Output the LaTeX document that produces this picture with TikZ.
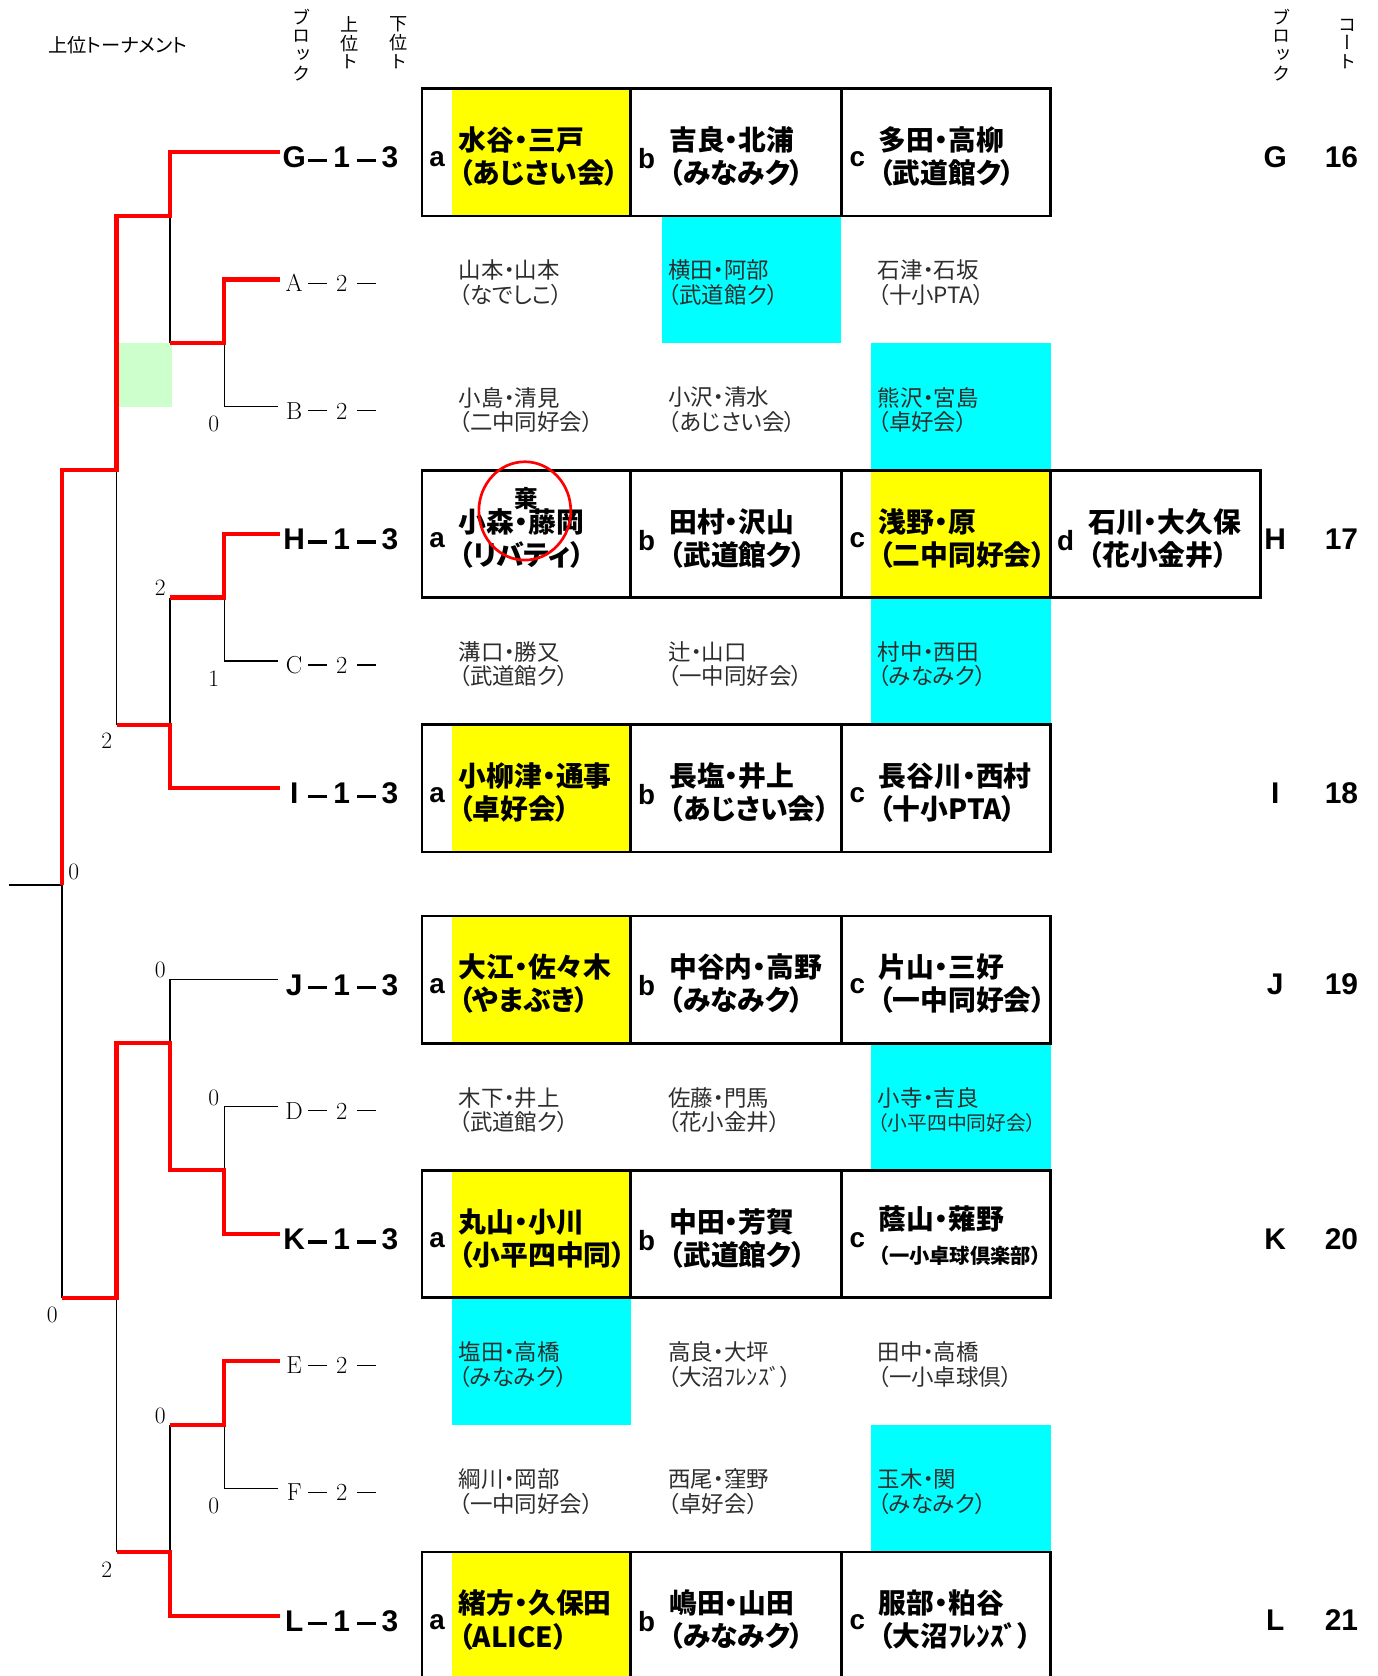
\documentclass[tikz,border=0pt]{standalone}
\usepackage{fontspec}
\newfontfamily\jpfont[RawFeature=+palt]{Noto Sans CJK JP}
\newfontfamily\jpvfont[RawFeature=+vert]{Noto Sans CJK JP}
\newfontfamily\arialfont{Liberation Sans}
\definecolor{winred}{RGB}{255, 0, 0}
\definecolor{seedyellow}{RGB}{255, 255, 0}
\definecolor{movecyan}{RGB}{0, 255, 255}
\definecolor{markgreen}{RGB}{204, 255, 204}
\definecolor{subgray}{RGB}{45, 45, 45}
% block / row labels with fixed-width slots
\newcommand{\blocklbl}[1]{\makebox[20pt]{#1}\kern3pt\rule[5.5pt]{18pt}{3pt}\makebox[27pt]{1}\kern1pt\rule[5.5pt]{18pt}{3pt}\kern1pt\makebox[23pt]{3}}
\newcommand{\rowlbl}[1]{\makebox[20pt]{#1}\kern3pt\rule[7.3pt]{18pt}{1.1pt}\makebox[27pt]{2}\kern1pt\rule[7.3pt]{18pt}{1.1pt}}

\begin{document}
\begin{tikzpicture}[
        x=1pt, y=-1pt,
        win/.style={draw=winred, line width=3.8pt},
        lose/.style={draw=black, line width=1.2pt},
        cellbox/.style={draw=black, line width=2.4pt},
        blkname/.style={anchor=west, inner sep=0pt, align=left, font=\jpfont\bfseries\fontsize{26}{31}\selectfont},
        subname/.style={anchor=west, inner sep=0pt, align=left, text=subgray, font=\jpfont\fontsize{21}{23}\selectfont},
        cellltr/.style={inner sep=0pt, font=\arialfont\bfseries\fontsize{26}{26}\selectfont},
        blklabel/.style={anchor=base west, inner sep=0pt, font=\arialfont\bfseries\fontsize{28}{28}\selectfont},
        rowlabel/.style={anchor=base west, inner sep=0pt, font=\fontsize{23}{23}\selectfont},
        score/.style={inner sep=0pt, font=\fontsize{22}{22}\selectfont},
        courtlbl/.style={inner sep=0pt, font=\arialfont\bfseries\fontsize{28}{28}\selectfont},
        vhead/.style={inner sep=0pt, align=center, font=\jpvfont\fontsize{17}{17.5}\selectfont}
    ]
    \useasboundingbox (0,0) rectangle (1289,1568);

    %% --- Headers ---
    \node[anchor=west, inner sep=0pt, font=\jpfont\fontsize{18}{18}\selectfont] (title) at (45,42) {上位トーナメント};
    \node[vhead] (hblk)  at (282,42) {ブ\\ロ\\ッ\\ク};
    \node[vhead] (hup)   at (327,40) {上\\位\\ト};
    \node[vhead] (hlow)  at (373,40) {下\\位\\ト};
    \node[vhead] (hblk2) at (1199,42) {ブ\\ロ\\ッ\\ク};
    \node[vhead] (hcourt) at (1261,41) {コ\\ー\\ト};

    %% --- Cell highlights ---
    \fill[seedyellow] (423,83) rectangle (590,202);
    \fill[seedyellow] (815,440) rectangle (983,559);
    \fill[seedyellow] (423,678) rectangle (590,797);
    \fill[seedyellow] (423,857) rectangle (590,976);
    \fill[seedyellow] (423,1095) rectangle (590,1214);
    \fill[seedyellow] (423,1452) rectangle (590,1571);
    \fill[movecyan] (619,202) rectangle (787,321);
    \fill[movecyan] (815,321) rectangle (983,440);
    \fill[movecyan] (815,559) rectangle (983,678);
    \fill[movecyan] (815,976) rectangle (983,1095);
    \fill[movecyan] (423,1214) rectangle (590,1333);
    \fill[movecyan] (815,1333) rectangle (983,1452);
    \fill[markgreen] (110,321) rectangle (161,381);

    %% --- Block boxes ---
    \draw[cellbox] (395,83) rectangle (983,202) (590,83) -- (590,202) (787,83) -- (787,202);
    \draw[cellbox] (395,440) rectangle (1179,559) (590,440) -- (590,559) (787,440) -- (787,559) (983,440) -- (983,559);
    \draw[cellbox] (395,678) rectangle (983,797) (590,678) -- (590,797) (787,678) -- (787,797);
    \draw[cellbox] (395,857) rectangle (983,976) (590,857) -- (590,976) (787,857) -- (787,976);
    \draw[cellbox] (395,1095) rectangle (983,1214) (590,1095) -- (590,1214) (787,1095) -- (787,1214);
    \draw[cellbox] (395,1452) rectangle (983,1571) (590,1452) -- (590,1571) (787,1452) -- (787,1571);

    %% --- Bracket end points and junctions ---
    \coordinate (eG) at (262,142.5);  \coordinate (eA) at (262,261.5);  \coordinate (eB) at (260,380.5);
    \coordinate (eH) at (262,499.5);  \coordinate (eC) at (260,618.5);  \coordinate (eI) at (262,737.5);
    \coordinate (eJ) at (260,916.5);  \coordinate (eD) at (260,1035.5); \coordinate (eK) at (262,1154.5);
    \coordinate (eE) at (262,1273.5); \coordinate (eF) at (260,1392.5); \coordinate (eL) at (262,1511.5);
    \coordinate (jAB) at (210,321);   \coordinate (oAB) at (159,321);
    \coordinate (jG)  at (159,202);   \coordinate (oG)  at (109,202);
    \coordinate (jHC) at (210,559);   \coordinate (oHC) at (159,559);
    \coordinate (jI)  at (159,678);   \coordinate (oI)  at (109,678);
    \coordinate (jUp) at (109,440);   \coordinate (oUp) at (58,440);
    \coordinate (root) at (58,828);   \coordinate (rootL) at (8,828);
    \coordinate (jDK) at (210,1095);  \coordinate (oDK) at (159,1095);
    \coordinate (jJ)  at (159,976);   \coordinate (oJ)  at (109,976);
    \coordinate (jEF) at (210,1333);  \coordinate (oEF) at (159,1333);
    \coordinate (jL)  at (159,1452);  \coordinate (oL)  at (109,1452);
    \coordinate (jLo) at (109,1214);  \coordinate (oLo) at (58,1214);

    %% --- Losing branches (black) ---
    \draw[lose] (eB) -| (jAB);
    \draw[lose] (oAB) -- (jG);
    \draw[lose] (eC) -| (jHC);
    \draw[lose] (oHC) -- (jI);
    \draw[lose] (oI) -- (jUp);
    \draw[lose] (oLo) -- (root) -- (rootL);
    \draw[lose] (eD) -| (jDK);
    \draw[lose] (eJ) -| (jJ);
    \draw[lose] (eF) -| (jEF);
    \draw[lose] (oEF) -- (jL);
    \draw[lose] (oL) -- (jLo);

    %% --- Winning branches (red) ---
    \draw[win] (eG) -| (jG) -- (oG) -- (jUp) -- (oUp) -- (root);
    \draw[win] (eA) -| (jAB) -- (oAB);
    \draw[win] (eH) -| (jHC) -- (oHC);
    \draw[win] (eI) -| (jI) -- (oI);
    \draw[win] (eK) -| (jDK) -- (oDK) -- (jJ) -- (oJ) -- (jLo) -- (oLo);
    \draw[win] (eE) -| (jEF) -- (oEF);
    \draw[win] (eL) -| (jL) -- (oL);

    %% --- Scores ---
    \node[score] (sB)  at (200,397)  {0};
    \node[score] (sHC) at (150,550)  {2};
    \node[score] (sC)  at (200,635)  {1};
    \node[score] (sI)  at (100,693)  {2};
    \node[score] (sUp) at (69,816)   {0};
    \node[score] (sJ)  at (150,907)  {0};
    \node[score] (sD)  at (200,1027) {0};
    \node[score] (sLo) at (49,1230)  {0};
    \node[score] (sEF) at (150,1325) {0};
    \node[score] (sF)  at (200,1409) {0};
    \node[score] (sL)  at (100,1469) {2};

    %% --- Block / row labels ---
    \node[blklabel] (lG) at (265,157)    {\blocklbl{G}};
    \node[rowlabel] (lA) at (265,273)    {\rowlbl{A}};
    \node[rowlabel] (lB) at (265,392)    {\rowlbl{B}};
    \node[blklabel] (lH) at (265,514)    {\blocklbl{H}};
    \node[rowlabel] (lC) at (265,630)    {\rowlbl{C}};
    \node[blklabel] (lI) at (265,752)    {\blocklbl{I}};
    \node[blklabel] (lJ) at (265,931)    {\blocklbl{J}};
    \node[rowlabel] (lD) at (265,1047)   {\rowlbl{D}};
    \node[blklabel] (lK) at (265,1169)   {\blocklbl{K}};
    \node[rowlabel] (lE) at (265,1285)   {\rowlbl{E}};
    \node[rowlabel] (lF) at (265,1404)   {\rowlbl{F}};
    \node[blklabel] (lL) at (265,1526)   {\blocklbl{L}};

    %% --- Block G ---
    \node[cellltr] (gLa) at (409,148.5) {a};
    \node[cellltr] (gLb) at (605,148.5) {b};
    \node[cellltr] (gLc) at (802,148.5) {c};
    \node[blkname] (gA) at (429,146.5) {水谷・三戸\\（あじさい会）};
    \node[blkname] (gB) at (626,146.5) {吉良・北浦\\（みなみク）};
    \node[blkname] (gC) at (822,146.5) {多田・高柳\\（武道館ク）};

    %% --- Rows A, B ---
    \node[subname] (aA) at (429,264.5) {山本・山本\\（なでしこ）};
    \node[subname] (aB) at (625,264.5) {横田・阿部\\（武道館ク）};
    \node[subname] (aC) at (821,264.5) {石津・石坂\\（十小PTA）};
    \node[subname] (bA) at (429,383.5) {小島・清見\\（二中同好会）};
    \node[subname] (bB) at (625,383.5) {小沢・清水\\（あじさい会）};
    \node[subname] (bC) at (821,383.5) {熊沢・宮島\\（卓好会）};

    %% --- Block H (a withdrew) ---
    \node[cellltr] (hLa) at (409,505.5) {a};
    \node[cellltr] (hLb) at (605,505.5) {b};
    \node[cellltr] (hLc) at (802,505.5) {c};
    \node[cellltr] (hLd) at (997,505.5) {d};
    \node[blkname] (hA) at (429,503.5) {小森・藤岡\\（リバティ）};
    \node[blkname] (hB) at (626,503.5) {田村・沢山\\（武道館ク）};
    \node[blkname] (hC) at (822,503.5) {浅野・原\\（二中同好会）};
    \node[blkname] (hD) at (1018,503.5) {石川・大久保\\（花小金井）};
    \node[inner sep=0pt, font=\jpfont\bfseries\fontsize{22}{22}\selectfont] (kiken) at (492,466) {棄};
    \draw[winred, line width=2.5pt] (491,478) ellipse [x radius=43pt, y radius=46pt];

    %% --- Row C ---
    \node[subname] (cA) at (429,621.5) {溝口・勝又\\（武道館ク）};
    \node[subname] (cB) at (625,621.5) {辻・山口\\（一中同好会）};
    \node[subname] (cC) at (821,621.5) {村中・西田\\（みなみク）};

    %% --- Block I ---
    \node[cellltr] (iLa) at (409,743.5) {a};
    \node[cellltr] (iLb) at (605,743.5) {b};
    \node[cellltr] (iLc) at (802,743.5) {c};
    \node[blkname] (iA) at (429,741.5) {小柳津・通事\\（卓好会）};
    \node[blkname] (iB) at (626,741.5) {長塩・井上\\（あじさい会）};
    \node[blkname] (iC) at (822,741.5) {長谷川・西村\\（十小PTA）};

    %% --- Block J ---
    \node[cellltr] (jLa) at (409,922.5) {a};
    \node[cellltr] (jLb) at (605,922.5) {b};
    \node[cellltr] (jLc) at (802,922.5) {c};
    \node[blkname] (jA) at (429,920.5) {大江・佐々木\\（やまぶき）};
    \node[blkname] (jB) at (626,920.5) {中谷内・高野\\（みなみク）};
    \node[blkname] (jC) at (822,920.5) {片山・三好\\（一中同好会）};

    %% --- Row D ---
    \node[subname] (dA) at (429,1038.5) {木下・井上\\（武道館ク）};
    \node[subname] (dB) at (625,1038.5) {佐藤・門馬\\（花小金井）};
    \node[subname] (dC) at (821,1038.5) {小寺・吉良\\\fontsize{18.5}{23}\selectfont（小平四中同好会）};

    %% --- Block K ---
    \node[cellltr] (kLa) at (409,1160.5) {a};
    \node[cellltr] (kLb) at (605,1160.5) {b};
    \node[cellltr] (kLc) at (802,1160.5) {c};
    \node[blkname] (kA) at (429,1158.5) {丸山・小川\\（小平四中同）};
    \node[blkname] (kB) at (626,1158.5) {中田・芳賀\\（武道館ク）};
    \node[blkname] (kC) at (822,1156) {蔭山・薙野\\\fontsize{19}{21}\selectfont（一小卓球倶楽部）};

    %% --- Rows E, F ---
    \node[subname] (eA2) at (429,1276.5) {塩田・高橋\\（みなみク）};
    \node[subname] (eB2) at (625,1276.5) {高良・大坪\\（大沼ﾌﾚﾝｽﾞ）};
    \node[subname] (eC2) at (821,1276.5) {田中・高橋\\（一小卓球倶）};
    \node[subname] (fA) at (429,1395.5) {綱川・岡部\\（一中同好会）};
    \node[subname] (fB) at (625,1395.5) {西尾・窪野\\（卓好会）};
    \node[subname] (fC) at (821,1395.5) {玉木・関\\（みなみク）};

    %% --- Block L ---
    \node[cellltr] (lLa) at (409,1517.5) {a};
    \node[cellltr] (lLb) at (605,1517.5) {b};
    \node[cellltr] (lLc) at (802,1517.5) {c};
    \node[blkname] (lAn) at (429,1515.5) {緒方・久保田\\（ALICE）};
    \node[blkname] (lBn) at (626,1515.5) {嶋田・山田\\（みなみク）};
    \node[blkname] (lCn) at (822,1515.5) {服部・粕谷\\（大沼ﾌﾚﾝｽﾞ）};

    %% --- Block / court column ---
    \node[courtlbl] (rG) at (1193,147) {G};   \node[courtlbl] (cG) at (1255,147) {16};
    \node[courtlbl] (rH) at (1193,504) {H};   \node[courtlbl] (cH) at (1255,504) {17};
    \node[courtlbl] (rI) at (1193,742) {I};   \node[courtlbl] (cI) at (1255,742) {18};
    \node[courtlbl] (rJ) at (1193,921) {J};   \node[courtlbl] (cJ) at (1255,921) {19};
    \node[courtlbl] (rK) at (1193,1159) {K};  \node[courtlbl] (cK) at (1255,1159) {20};
    \node[courtlbl] (rL) at (1193,1516) {L};  \node[courtlbl] (cL) at (1255,1516) {21};

\end{tikzpicture}
\end{document}
